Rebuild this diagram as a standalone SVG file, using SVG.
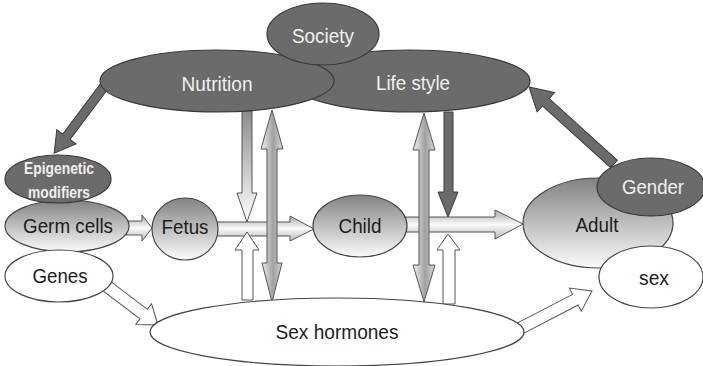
<svg xmlns="http://www.w3.org/2000/svg" width="703" height="366" viewBox="0 0 703 366">
<defs>
<linearGradient id="ngrad" x1="0" y1="0" x2="0" y2="1">
<stop offset="0" stop-color="#828282"/><stop offset="1" stop-color="#fbfbfb"/>
</linearGradient>
<linearGradient id="hgrad" x1="0" y1="0" x2="0" y2="1">
<stop offset="0" stop-color="#a8a8a8"/><stop offset="0.5" stop-color="#fafafa"/><stop offset="1" stop-color="#b8b8b8"/>
</linearGradient>
<linearGradient id="vgrad" x1="0" y1="0" x2="1" y2="0">
<stop offset="0" stop-color="#f2f2f2"/><stop offset="0.55" stop-color="#a0a0a0"/><stop offset="1" stop-color="#d8d8d8"/>
</linearGradient>
<linearGradient id="dgrad" x1="0" y1="0" x2="0" y2="1">
<stop offset="0" stop-color="#8c8c8c"/><stop offset="1" stop-color="#ffffff"/>
</linearGradient>
<style>
.dark{fill:#6b6b6b;stroke:#3a3a3a;stroke-width:1.2}
.white{fill:#ffffff;stroke:#444;stroke-width:1.2}
.grad{fill:url(#ngrad);stroke:#444;stroke-width:1.2}
.t{font-family:"Liberation Sans",Arial,sans-serif;font-size:21px;text-anchor:middle;fill:#1c1c1c}
.tw{font-family:"Liberation Sans",Arial,sans-serif;font-size:21px;text-anchor:middle;fill:#f0f0f0}
.tb{font-family:"Liberation Sans",Arial,sans-serif;font-size:17px;font-weight:bold;text-anchor:middle;fill:#f0f0f0}
.ah{fill:url(#hgrad);stroke:#555;stroke-width:1}
.av{fill:url(#vgrad);stroke:#555;stroke-width:1}
.ad{fill:url(#dgrad);stroke:#555;stroke-width:1}
.aw{fill:#ffffff;stroke:#555;stroke-width:1}
.ak{fill:#6b6b6b;stroke:#3a3a3a;stroke-width:1}
</style>
</defs>
<g id="connectors">
<path class="ak" transform="translate(106,84) rotate(126.87)" d="M0,-4.5 L66,-4.5 L66,-12 L86.4,0 L66,12 L66,4.5 L0,4.5 Z"/>
<path class="ak" transform="translate(614,164) rotate(-137.83)" d="M0,-5 L92,-5 L92,-13 L114.7,0 L92,13 L92,5 L0,5 Z"/>
<path class="aw" transform="translate(104,284) rotate(37.2)" d="M0,-6 L49.8,-6 L49.8,-13 L67.8,0 L49.8,13 L49.8,6 L0,6 Z"/>
<path class="aw" transform="translate(515,331) rotate(-27.45)" d="M0,-6 L68,-6 L68,-13 L86.8,0 L68,13 L68,6 L0,6 Z"/>
<path class="ah" d="M126,221 L142,221 L142,215 L152,228 L142,241 L142,235 L126,235 Z"/>
<path class="ah" d="M216,222 L290,222 L290,216 L314,229 L290,241 L290,236 L216,236 Z"/>
<path class="ah" d="M405,217 L495,217 L495,210 L523,224 L495,239 L495,232 L405,232 Z"/>
<path class="ad" d="M242,111 L252,111 L252,193 L257,193 L247,222 L237,193 L242,193 Z"/>
<path class="aw" d="M242,300 L253,300 L253,250 L259,250 L247,232 L235,250 L242,250 Z"/>
<path class="av" d="M272,110 L283,149 L277,149 L277,263 L282,263 L272,302 L262,263 L267,263 L267,149 L261,149 Z"/>
<path class="av" d="M424,113 L435,150 L429,150 L429,265 L435,265 L424,302 L413,265 L419,265 L419,150 L413,150 Z"/>
<path class="ak" d="M444,112 L453,112 L453,192 L458,192 L448,217 L438,192 L444,192 Z"/>
<path class="aw" d="M443,304 L455,304 L455,250 L460,250 L448,234 L437,250 L443,250 Z"/>
</g>
<g id="lifestyle"><ellipse class="dark" cx="410" cy="81" rx="120" ry="31"/><text class="tw" x="413" y="90" textLength="74" lengthAdjust="spacingAndGlyphs">Life style</text></g>
<g id="nutrition"><ellipse class="dark" cx="217" cy="81" rx="117" ry="31"/><text class="tw" x="217" y="91" textLength="71" lengthAdjust="spacingAndGlyphs">Nutrition</text></g>
<g id="society"><ellipse class="dark" cx="323" cy="34" rx="56" ry="31"/><text class="tw" x="323" y="43" textLength="62" lengthAdjust="spacingAndGlyphs">Society</text></g>
<g id="germcells"><ellipse class="grad" cx="67" cy="226" rx="62" ry="26"/><text class="t" x="68" y="233" textLength="90" lengthAdjust="spacingAndGlyphs">Germ cells</text></g>
<g id="genes"><ellipse class="white" cx="59" cy="276" rx="54" ry="26"/><text class="t" x="60" y="283" textLength="55" lengthAdjust="spacingAndGlyphs">Genes</text></g>
<g id="epigenetic"><ellipse class="dark" cx="58" cy="179" rx="53" ry="24"/><text class="tb" x="59" y="174" textLength="70" lengthAdjust="spacingAndGlyphs">Epigenetic</text><text class="tb" x="59" y="198" textLength="62" lengthAdjust="spacingAndGlyphs">modifiers</text></g>
<g id="fetus"><ellipse class="grad" cx="185" cy="229" rx="33" ry="31"/><text class="t" x="185" y="234" textLength="47" lengthAdjust="spacingAndGlyphs">Fetus</text></g>
<g id="child"><ellipse class="grad" cx="360" cy="226" rx="47" ry="31"/><text class="t" x="360" y="233" textLength="43" lengthAdjust="spacingAndGlyphs">Child</text></g>
<g id="adult"><ellipse class="grad" cx="598" cy="223" rx="75" ry="45"/><text class="t" x="597" y="232" textLength="43" lengthAdjust="spacingAndGlyphs">Adult</text></g>
<g id="gender"><ellipse class="dark" cx="651" cy="187" rx="54" ry="29"/><text class="tw" x="653" y="194" textLength="62" lengthAdjust="spacingAndGlyphs">Gender</text></g>
<g id="sex"><ellipse class="white" cx="651" cy="277" rx="52" ry="31"/><text class="t" x="654" y="285" textLength="30" lengthAdjust="spacingAndGlyphs">sex</text></g>
<g id="sexhormones"><ellipse class="white" cx="337" cy="332" rx="187" ry="34"/><text class="t" x="337" y="339" textLength="123" lengthAdjust="spacingAndGlyphs">Sex hormones</text></g>
</svg>
